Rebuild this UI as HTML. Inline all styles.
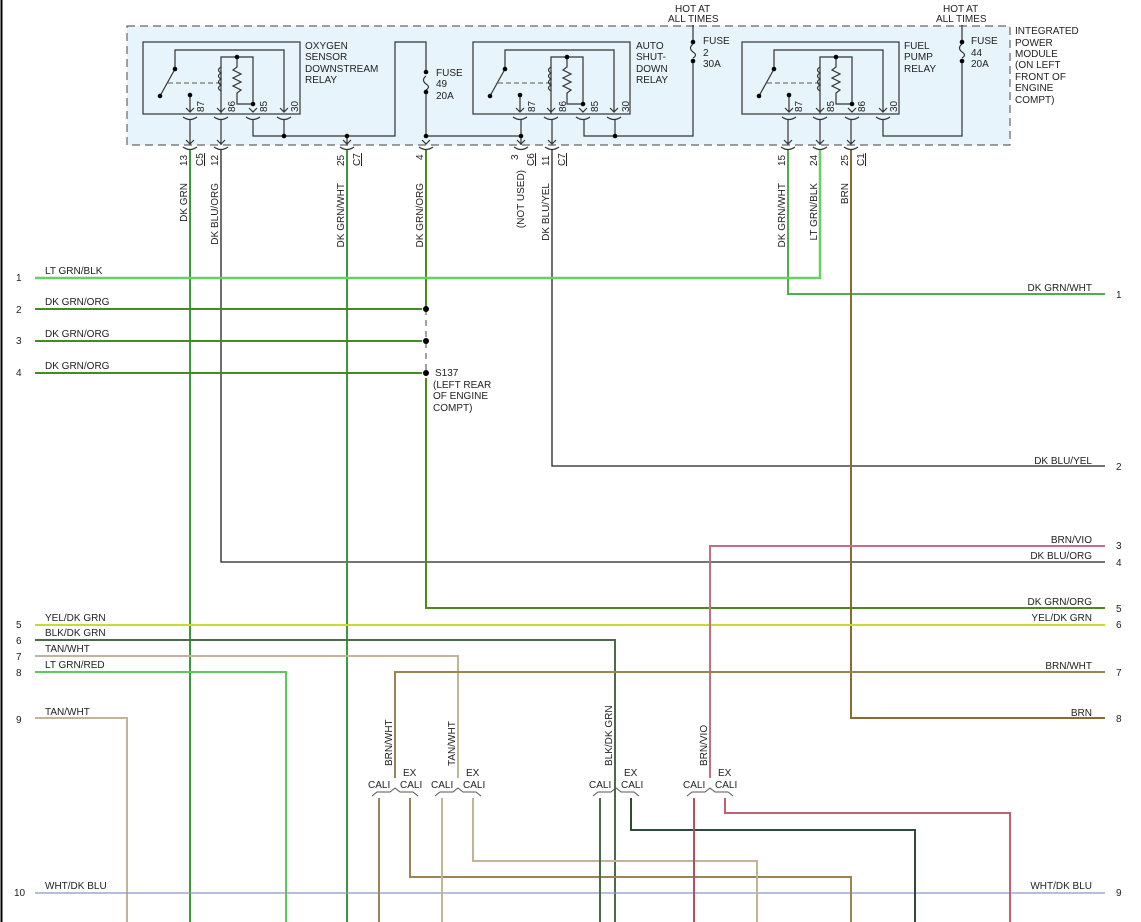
<!DOCTYPE html>
<html><head><meta charset="utf-8"><style>
html,body{margin:0;padding:0;background:#fff;}
svg{display:block;font-family:"Liberation Sans",sans-serif;font-size:10px;}
</style></head><body>
<svg width="1141" height="922" viewBox="0 0 1141 922" xmlns="http://www.w3.org/2000/svg">
<defs>
<g id="relay" fill="none" stroke="#333" stroke-width="1.2">
  <rect x="0" y="0" width="157" height="72" fill="none"/>
  <polyline points="32,27 32,8 141,8 141,70"/>
  <line x1="17" y1="54" x2="32" y2="27"/>
  <line x1="25" y1="41" x2="78" y2="41" stroke-dasharray="5,3" stroke="#777"/>
  <line x1="47" y1="53" x2="47" y2="70"/>
  <polyline points="78,72 78,15 110,15 110,62 94,62 94,54"/>
  <path d="M94,15 V25 l-4,3 l8,4 l-8,4 l8,4 l-8,4 l8,4 l-4,3 V54"/>
  <path d="M78,25 q-5,3 0,6 q-5,3 0,6 q-5,3 0,6 q-5,3 0,6"/>
  <path d="M43,66 l4,4 l4,-4 M74,66 l4,4 l4,-4 M106,66 l4,4 l4,-4 M137,66 l4,4 l4,-4"/>
  <path d="M40,75 q7,5 14,0 M71,75 q7,5 14,0 M103,75 q7,5 14,0 M134,75 q7,5 14,0"/>
  <circle cx="32" cy="27" r="2.3" fill="#000" stroke="none"/>
  <circle cx="17" cy="54" r="2.3" fill="#000" stroke="none"/>
  <circle cx="47" cy="53" r="2.3" fill="#000" stroke="none"/>
  <circle cx="94" cy="15" r="2.3" fill="#000" stroke="none"/>
  <circle cx="110" cy="62" r="2.3" fill="#000" stroke="none"/>
</g>
</defs>
<line x1="1.5" y1="0" x2="1.5" y2="922" stroke="#000" stroke-width="2"/>
<rect x="127" y="26" width="883" height="119" fill="#e8f4fb" stroke="#666" stroke-width="1.2" stroke-dasharray="8,5"/>
<use href="#relay" x="143" y="42"/>
<use href="#relay" x="473" y="42"/>
<use href="#relay" x="742" y="42"/>
<g fill="#222">
<text x="305" y="49">OXYGEN</text><text x="305" y="60">SENSOR</text><text x="305" y="72">DOWNSTREAM</text><text x="305" y="83">RELAY</text>
<text x="636" y="49">AUTO</text><text x="636" y="60">SHUT-</text><text x="636" y="72">DOWN</text><text x="636" y="83">RELAY</text>
<text x="904" y="49">FUEL</text><text x="904" y="60">PUMP</text><text x="904" y="72">RELAY</text>
<text x="1015" y="34">INTEGRATED</text><text x="1015" y="46">POWER</text><text x="1015" y="57">MODULE</text><text x="1015" y="68">(ON LEFT</text><text x="1015" y="80">FRONT OF</text><text x="1015" y="91">ENGINE</text><text x="1015" y="103">COMPT)</text>
<text x="436" y="76">FUSE</text><text x="436" y="87">49</text><text x="436" y="99">20A</text>
<text x="703" y="44">FUSE</text><text x="703" y="56">2</text><text x="703" y="67">30A</text>
<text x="971" y="44">FUSE</text><text x="971" y="56">44</text><text x="971" y="67">20A</text>
<text x="675" y="12">HOT AT</text><text x="668" y="22">ALL TIMES</text>
<text x="943" y="12">HOT AT</text><text x="936" y="22">ALL TIMES</text>
</g>
<g fill="#222">
<text transform="translate(204,112) rotate(-90)">87</text><text transform="translate(235,112) rotate(-90)">86</text><text transform="translate(267,112) rotate(-90)">85</text><text transform="translate(298,112) rotate(-90)">30</text>
<text transform="translate(535,112) rotate(-90)">87</text><text transform="translate(566,112) rotate(-90)">86</text><text transform="translate(598,112) rotate(-90)">85</text><text transform="translate(629,112) rotate(-90)">30</text>
<text transform="translate(802,112) rotate(-90)">87</text><text transform="translate(834,112) rotate(-90)">85</text><text transform="translate(865,112) rotate(-90)">86</text><text transform="translate(897,112) rotate(-90)">30</text>
</g>
<g fill="none" stroke="#333" stroke-width="1.2">
<polyline points="253,120 253,136 395,136 395,42 426,42 426,70"/>
<line x1="284" y1="120" x2="284" y2="136"/>
<line x1="347" y1="136" x2="347" y2="145"/>
<path d="M426,76 q-5,4 0,8 q5,3 0,6"/>
<polyline points="426,90 426,136 521,136"/>
<line x1="521" y1="120" x2="521" y2="145"/>
<line x1="190" y1="120" x2="190" y2="145"/><line x1="221" y1="120" x2="221" y2="145"/>
<line x1="552" y1="120" x2="552" y2="145"/>
<polyline points="584,120 584,136 693,136 693,62"/>
<line x1="615" y1="120" x2="615" y2="136"/>
<path d="M693,44 q-5,4 0,8 q5,3 0,6"/><line x1="693" y1="44" x2="693" y2="25"/>
<line x1="788" y1="120" x2="788" y2="145"/><line x1="820" y1="120" x2="820" y2="145"/><line x1="851" y1="120" x2="851" y2="145"/>
<polyline points="883,120 883,136 962,136 962,62"/>
<path d="M962,44 q-5,4 0,8 q5,3 0,6"/><line x1="962" y1="44" x2="962" y2="25"/>
<path d="M186,140 l4,4 l4,-4 M217,140 l4,4 l4,-4 M343,140 l4,4 l4,-4 M422,140 l4,4 l4,-4 M517,140 l4,4 l4,-4 M548,140 l4,4 l4,-4 M784,140 l4,4 l4,-4 M816,140 l4,4 l4,-4 M847,140 l4,4 l4,-4"/>
<path d="M183,147 q7,5 14,0 M214,147 q7,5 14,0 M340,147 q7,5 14,0 M419,147 q7,5 14,0 M514,147 q7,5 14,0 M545,147 q7,5 14,0 M781,147 q7,5 14,0 M813,147 q7,5 14,0 M844,147 q7,5 14,0"/>
</g>
<g fill="#000">
<circle cx="284" cy="136" r="2.3"/><circle cx="347" cy="136" r="2.3"/><circle cx="426" cy="136" r="2.3"/><circle cx="521" cy="136" r="2.3"/><circle cx="615" cy="136" r="2.3"/>
<circle cx="426" cy="72" r="2.3"/><circle cx="426" cy="92" r="2.3"/><circle cx="693" cy="42" r="2.3"/><circle cx="693" cy="61" r="2.3"/><circle cx="962" cy="42" r="2.3"/><circle cx="962" cy="61" r="2.3"/>
</g>
<g fill="#222">
<text transform="translate(187,166) rotate(-90)">13</text><text transform="translate(203,166) rotate(-90)" text-decoration="underline">C5</text>
<text transform="translate(218,166) rotate(-90)">12</text>
<text transform="translate(344,166) rotate(-90)">25</text><text transform="translate(360,166) rotate(-90)" text-decoration="underline">C7</text>
<text transform="translate(423,160) rotate(-90)">4</text>
<text transform="translate(518,160) rotate(-90)">3</text><text transform="translate(534,166) rotate(-90)" text-decoration="underline">C6</text>
<text transform="translate(549,166) rotate(-90)">11</text><text transform="translate(565,166) rotate(-90)" text-decoration="underline">C7</text>
<text transform="translate(785,166) rotate(-90)">15</text><text transform="translate(817,166) rotate(-90)">24</text>
<text transform="translate(848,166) rotate(-90)">25</text><text transform="translate(864,166) rotate(-90)" text-decoration="underline">C1</text>
<text transform="translate(187,183) rotate(-90)" text-anchor="end">DK GRN</text>
<text transform="translate(218,183) rotate(-90)" text-anchor="end">DK BLU/ORG</text>
<text transform="translate(344,183) rotate(-90)" text-anchor="end">DK GRN/WHT</text>
<text transform="translate(423,183) rotate(-90)" text-anchor="end">DK GRN/ORG</text>
<text transform="translate(524,170) rotate(-90)" text-anchor="end">(NOT USED)</text>
<text transform="translate(549,183) rotate(-90)" text-anchor="end">DK BLU/YEL</text>
<text transform="translate(785,183) rotate(-90)" text-anchor="end">DK GRN/WHT</text>
<text transform="translate(817,183) rotate(-90)" text-anchor="end">LT GRN/BLK</text>
<text transform="translate(848,183) rotate(-90)" text-anchor="end">BRN</text>
</g>
<g fill="none" stroke-width="2">
<line x1="190" y1="150" x2="190" y2="922" stroke="#3a9a3a"/>
<polyline points="221,150 221,562 1105,562" stroke="#222" stroke-width="1.3"/>
<line x1="347" y1="150" x2="347" y2="922" stroke="#3a9a3a"/>
<line x1="426" y1="150" x2="426" y2="309" stroke="#4c8a1c"/>
<polyline points="426,378 426,608 1105,608" stroke="#4c8a1c"/>
<line x1="426" y1="309" x2="426" y2="373" stroke="#444" stroke-width="1" stroke-dasharray="6,5"/>
<polyline points="552,150 552,466 1105,466" stroke="#222" stroke-width="1.3"/>
<polyline points="788,150 788,294 1105,294" stroke="#4caf4c"/>
<polyline points="820,150 820,278 35,278" stroke="#66d066" stroke-width="2.5"/>
<polyline points="851,150 851,718 1105,718" stroke="#8a6a30"/>
<line x1="35" y1="309" x2="422" y2="309" stroke="#3f8f20"/>
<line x1="35" y1="341" x2="422" y2="341" stroke="#3f8f20"/>
<line x1="35" y1="373" x2="422" y2="373" stroke="#3f8f20"/>
<line x1="35" y1="625" x2="1105" y2="625" stroke="#c8dc30"/>
<polyline points="35,640 615,640 615,922" stroke="#4a6a4a"/>
<polyline points="35,656 458,656 458,778" stroke="#c2b498"/>
<polyline points="35,672 286,672 286,922" stroke="#5ac85a"/>
<polyline points="35,718 127,718 127,922" stroke="#c2b498"/>
<line x1="35" y1="893" x2="1105" y2="893" stroke="#8a98c8" stroke-width="1.3"/>
<polyline points="1105,546 710,546 710,778" stroke="#c07080"/>
<polyline points="1105,672 395,672 395,778" stroke="#9a8450"/>
<line x1="379" y1="798" x2="379" y2="922" stroke="#9a8450"/>
<polyline points="410,798 410,877 851,877 851,922" stroke="#9a8450"/>
<line x1="442" y1="798" x2="442" y2="922" stroke="#c2b498"/>
<polyline points="473,798 473,861 757,861 757,922" stroke="#c2b498"/>
<line x1="600" y1="798" x2="600" y2="922" stroke="#4a6a4a"/>
<polyline points="631,798 631,830 915,830 915,922" stroke="#2f4a3a"/>
<line x1="694" y1="798" x2="694" y2="922" stroke="#b05060"/>
<polyline points="725,798 725,813 1010,813 1010,922" stroke="#c06070"/>
</g>
<g fill="#000"><circle cx="426" cy="309" r="3"/><circle cx="426" cy="341" r="3"/><circle cx="426" cy="373" r="3"/></g>
<g fill="none" stroke="#555" stroke-width="1">
<path d="M372,796 l5,-4 h13 l5,-4 l5,4 h13 l5,4"/>
<path d="M435,796 l5,-4 h13 l5,-4 l5,4 h13 l5,4"/>
<path d="M593,796 l5,-4 h13 l5,-4 l5,4 h13 l5,4"/>
<path d="M687,796 l5,-4 h13 l5,-4 l5,4 h13 l5,4"/>
</g>
<g fill="#222">
<text x="368" y="788">CALI</text><text x="403" y="776">EX</text><text x="400" y="788">CALI</text>
<text x="431" y="788">CALI</text><text x="466" y="776">EX</text><text x="463" y="788">CALI</text>
<text x="589" y="788">CALI</text><text x="624" y="776">EX</text><text x="621" y="788">CALI</text>
<text x="683" y="788">CALI</text><text x="718" y="776">EX</text><text x="715" y="788">CALI</text>
<text transform="translate(392,766) rotate(-90)">BRN/WHT</text>
<text transform="translate(455,766) rotate(-90)">TAN/WHT</text>
<text transform="translate(612,766) rotate(-90)">BLK/DK GRN</text>
<text transform="translate(707,766) rotate(-90)">BRN/VIO</text>
<text x="45" y="274">LT GRN/BLK</text><text x="45" y="305">DK GRN/ORG</text><text x="45" y="337">DK GRN/ORG</text><text x="45" y="369">DK GRN/ORG</text>
<text x="45" y="621">YEL/DK GRN</text><text x="45" y="636">BLK/DK GRN</text><text x="45" y="652">TAN/WHT</text><text x="45" y="668">LT GRN/RED</text><text x="45" y="715">TAN/WHT</text><text x="45" y="889">WHT/DK BLU</text>
<text x="16" y="281">1</text><text x="16" y="313">2</text><text x="16" y="344">3</text><text x="16" y="376">4</text><text x="16" y="628">5</text><text x="16" y="644">6</text><text x="16" y="660">7</text><text x="16" y="676">8</text><text x="16" y="723">9</text><text x="14" y="896">10</text>
<text x="435" y="376">S137</text><text x="433" y="388">(LEFT REAR</text><text x="433" y="399">OF ENGINE</text><text x="433" y="411">COMPT)</text>
<g text-anchor="end">
<text x="1092" y="291">DK GRN/WHT</text><text x="1092" y="464">DK BLU/YEL</text><text x="1092" y="543">BRN/VIO</text><text x="1092" y="559">DK BLU/ORG</text><text x="1092" y="605">DK GRN/ORG</text><text x="1092" y="621">YEL/DK GRN</text><text x="1092" y="669">BRN/WHT</text><text x="1092" y="716">BRN</text><text x="1092" y="889">WHT/DK BLU</text>
</g>
<text x="1116" y="298">1</text><text x="1116" y="470">2</text><text x="1116" y="549">3</text><text x="1116" y="566">4</text><text x="1116" y="612">5</text><text x="1116" y="628">6</text><text x="1116" y="676">7</text><text x="1116" y="722">8</text><text x="1116" y="896">9</text>
</g>
</svg>
</body></html>
